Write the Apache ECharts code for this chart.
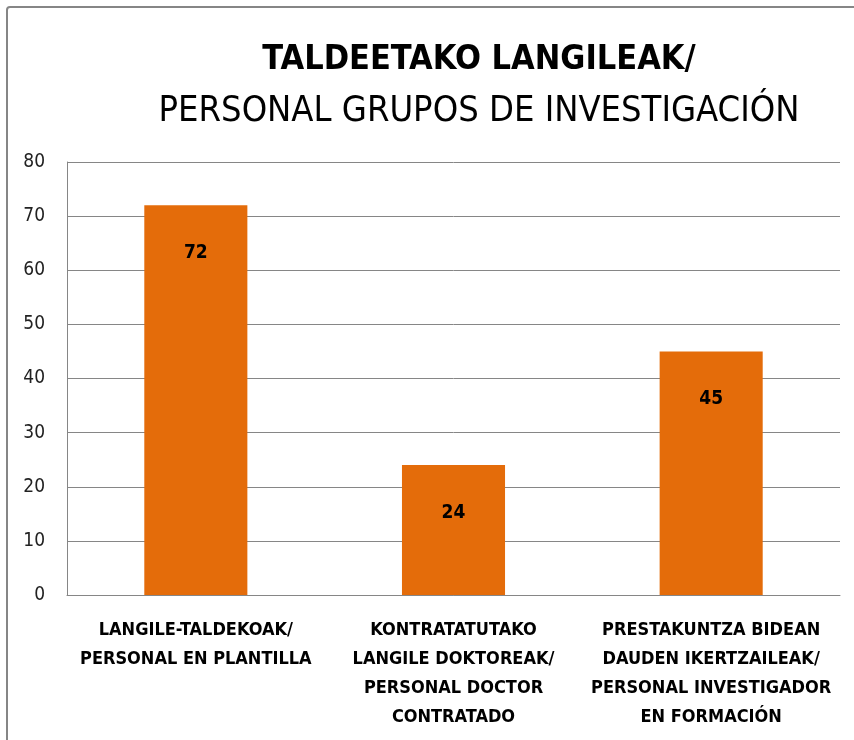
<!DOCTYPE html>
<html lang="es">
<head>
    <meta charset="UTF-8">
    <title>Taldeetako langileak</title>
    <style>
        html, body { margin: 0; padding: 0; background: #fff; }
        #main { width: 854px; height: 740px; }
    </style>
</head>
<body>
    <div id="main"></div>
</body>
<script src="https://cdn.jsdelivr.net/npm/echarts@6.0.0/dist/echarts.min.js"></script>
<script>
    const categories = [
        'LANGILE-TALDEKOAK/\nPERSONAL EN PLANTILLA',
        'KONTRATATUTAKO\nLANGILE DOKTOREAK/\nPERSONAL DOCTOR\nCONTRATADO',
        'PRESTAKUNTZA BIDEAN\nDAUDEN IKERTZAILEAK/\nPERSONAL INVESTIGADOR\nEN FORMACIÓN'
    ]
    const values = [72, 24, 45]
    const yTicks = [0, 10, 20, 30, 40, 50, 60, 70, 80]

    const font = "'Liberation Sans Narrow', 'DejaVu Sans Condensed', sans-serif"

    const chart = echarts.init(document.getElementById('main'))
    chart.setOption({
        animation: false,
        textStyle: { fontFamily: font },
        // border of the chart area (only left / top visible in the crop)
        graphic: [{
            type: 'rect',
            shape: { x: 7, y: 7, width: 900, height: 800, r: 3 },
            style: { fill: null, stroke: '#868686', lineWidth: 2 },
            silent: true
        }],
        title: [
            {
                text: 'TALDEETAKO LANGILEAK/',
                left: 474, top: 38, textAlign: 'center',
                textStyle: { fontFamily: font, fontSize: 34, fontWeight: 'bold', color: '#000' }
            },
            {
                text: 'PERSONAL GRUPOS DE INVESTIGACIÓN',
                left: 474, top: 89, textAlign: 'center',
                textStyle: { fontFamily: font, fontSize: 36, fontWeight: 'normal', color: '#000' }
            }
        ],
        grid: { left: 67, right: 14, top: 162, bottom: 145, containLabel: false },
        xAxis: {
            type: 'category',
            data: categories,
            axisTick: { show: false },
            axisLine: { lineStyle: { color: '#868686', width: 1 } },
            axisLabel: {
                interval: 0, margin: 21, lineHeight: 29,
                fontFamily: font, fontSize: 18, fontWeight: 'bold', color: '#000'
            }
        },
        yAxis: {
            type: 'value',
            min: yTicks[0], max: yTicks[yTicks.length - 1], interval: 10,
            axisLine: { show: true, lineStyle: { color: '#868686', width: 1 } },
            axisTick: { show: false },
            splitLine: { lineStyle: { color: '#868686', width: 1 } },
            axisLabel: { margin: 22, fontFamily: font, fontSize: 19, color: '#222' }
        },
        series: [{
            type: 'bar',
            data: values,
            barCategoryGap: '60%',
            itemStyle: { color: '#E46C0A' },
            label: {
                show: true, position: 'insideTop', distance: 38,
                fontFamily: font, fontSize: 19, fontWeight: 'bold', color: '#000'
            }
        }]
    })
</script>
</html>
